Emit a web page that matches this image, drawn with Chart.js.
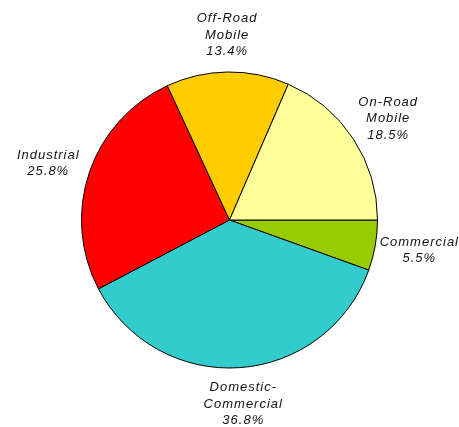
<!DOCTYPE html>
<html>
<head>
<meta charset="utf-8">
<script src="https://cdn.jsdelivr.net/npm/chart.js@4/dist/chart.umd.min.js"></script>
<style>
  html, body { margin: 0; padding: 0; background: #fff; }
  #wrap { width: 459px; height: 427px; }
</style>
</head>
<body>
<div id="wrap"><canvas id="pie" width="459" height="427"></canvas></div>
<script>
"use strict";
// emission shares by source, clockwise from 3 o'clock
var categories = [["Commercial"], ["Domestic-", "Commercial"], ["Industrial"], ["Off-Road", "Mobile"], ["On-Road", "Mobile"]];
var shares = [5.5, 36.8, 25.8, 13.4, 18.5];
var colours = ["#99cc00", "#33cccc", "#ff0000", "#ffcc00", "#ffff99"];

// draws each name + percentage outside its slice
var outsideLabels = {
    id: "outsideLabels",
    afterDatasetsDraw: function(chart) {
        var ctx = chart.ctx, meta = chart.getDatasetMeta(0), lh = 16.5;
        ctx.save();
        ctx.font = "italic 13px 'Liberation Sans', Arial, sans-serif";
        ctx.letterSpacing = "1px";
        ctx.fillStyle = "#111";
        ctx.textAlign = "center";
        ctx.textBaseline = "middle";
        meta.data.forEach(function(arc, i) {
            var p = arc.getProps(["x", "y", "startAngle", "endAngle", "outerRadius"], true);
            var mid = (p.startAngle + p.endAngle) / 2;
            var c = Math.cos(mid), s = Math.sin(mid);
            var lines = categories[i].concat([shares[i].toFixed(1) + "%"]);
            var w = 0;
            lines.forEach(function(t) { w = Math.max(w, ctx.measureText(t).width); });
            var h = lines.length * lh;
            var r = p.outerRadius + 12;
            var cx = p.x + r * c + c * w / 2;
            var cy = p.y + r * s + s * h / 2;
            // keep the block inside the canvas
            cx = Math.min(Math.max(cx, w / 2 + 2), chart.width - w / 2);
            lines.forEach(function(t, k) {
                ctx.fillText(t, cx, cy - h / 2 + lh / 2 + k * lh);
            });
        });
        ctx.restore();
    }
};

new Chart(document.getElementById("pie"), {
    type: "pie",
    data: {
        labels: categories.map(function(c) { return c.join(" "); }),
        datasets: [{
            data: shares,
            backgroundColor: colours,
            borderColor: "#000",
            borderWidth: 1
        }]
    },
    options: {
        responsive: false,
        animation: false,
        rotation: 90,
        layout: { padding: { left: 81, right: 81, top: 71, bottom: 58 } },
        events: [],
        plugins: {
            legend: { display: false },
            tooltip: { enabled: false },
            title: { display: false }
        }
    },
    plugins: [outsideLabels]
});
</script>
</body>
</html>
